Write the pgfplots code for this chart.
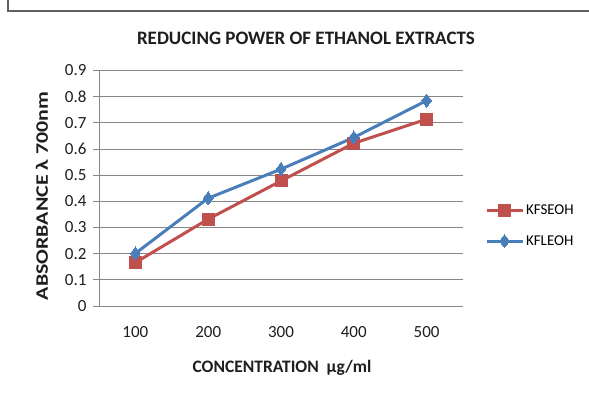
\documentclass[border=0pt]{standalone}
\usepackage{pgfplots}
\pgfplotsset{compat=1.18}
\usepackage{fontspec}
\setmainfont{Carlito}
\definecolor{kred}{RGB}{192,80,77}
\definecolor{kblue}{RGB}{74,126,187}
\definecolor{gridgray}{RGB}{134,134,134}
\definecolor{txt}{RGB}{30,30,30}
\begin{document}
\begin{tikzpicture}[x=1pt,y=1pt]
\useasboundingbox (0,0) rectangle (589,396);
\draw[gray!75!black, line width=1.2pt] (8,396) -- (8,385) -- (589,385);
\begin{axis}[
  at={(99pt,90pt)}, anchor=south west,
  scale only axis, width=364pt, height=235.5pt,
  xmin=0.5, xmax=5.5, ymin=0, ymax=0.9,
  xtick={1,2,3,4,5}, xticklabels={100,200,300,400,500},
  ytick={0,0.1,...,0.9},
  yticklabel style={/pgf/number format/fixed,/pgf/number format/precision=1, xshift=-3pt},
  /pgf/number format/assume math mode=true,
  axis x line*=bottom, axis y line*=left,
  axis line style={gridgray, line width=0.8pt, -},
  x tick style={draw=none},
  y tick style={gridgray, line width=0.8pt},
  tick align=outside, major tick length=6pt,
  ymajorgrids, grid style={gridgray, line width=0.8pt},
  tick label style={font=\fontsize{17}{19}\selectfont, text=txt},
  xticklabel style={yshift=-11pt},
  legend style={at={(1.06,0.34)}, anchor=west, draw=none, fill=none,
    font=\fontsize{15}{17}\selectfont, row sep=15pt, inner sep=0pt},
  legend cell align=left,
  legend image code/.code={\draw[mark repeat=2,mark phase=2,#1] plot coordinates {(0pt,0pt) (18pt,0pt) (36pt,0pt)};},
  clip=false,
]
\addplot[kred, line width=3pt, mark=square*, mark size=6pt, mark options={line width=0pt, fill=kred}]
  coordinates {(1,0.166) (2,0.332) (3,0.478) (4,0.622) (5,0.714)};
\addlegendentry{KFSEOH}
\addplot[kblue, line width=3pt, mark=diamond*, mark size=6.5pt, mark options={line width=0pt, fill=kblue}]
  coordinates {(1,0.201) (2,0.412) (3,0.523) (4,0.644) (5,0.785)};
\addlegendentry{KFLEOH}
\end{axis}
\node[font=\fontsize{19}{21}\selectfont\bfseries, text=txt] at (306,358) {REDUCING POWER OF ETHANOL EXTRACTS};
\node[font=\fontsize{17.5}{19}\selectfont\bfseries, text=txt, rotate=90] at (42,200) {\scalebox{1.25}[1]{ABSORBANCE λ 700nm}};
\node[font=\fontsize{17.5}{19}\selectfont\bfseries, text=txt] at (282,28) {CONCENTRATION\ \ µg/ml};
\end{tikzpicture}
\end{document}
